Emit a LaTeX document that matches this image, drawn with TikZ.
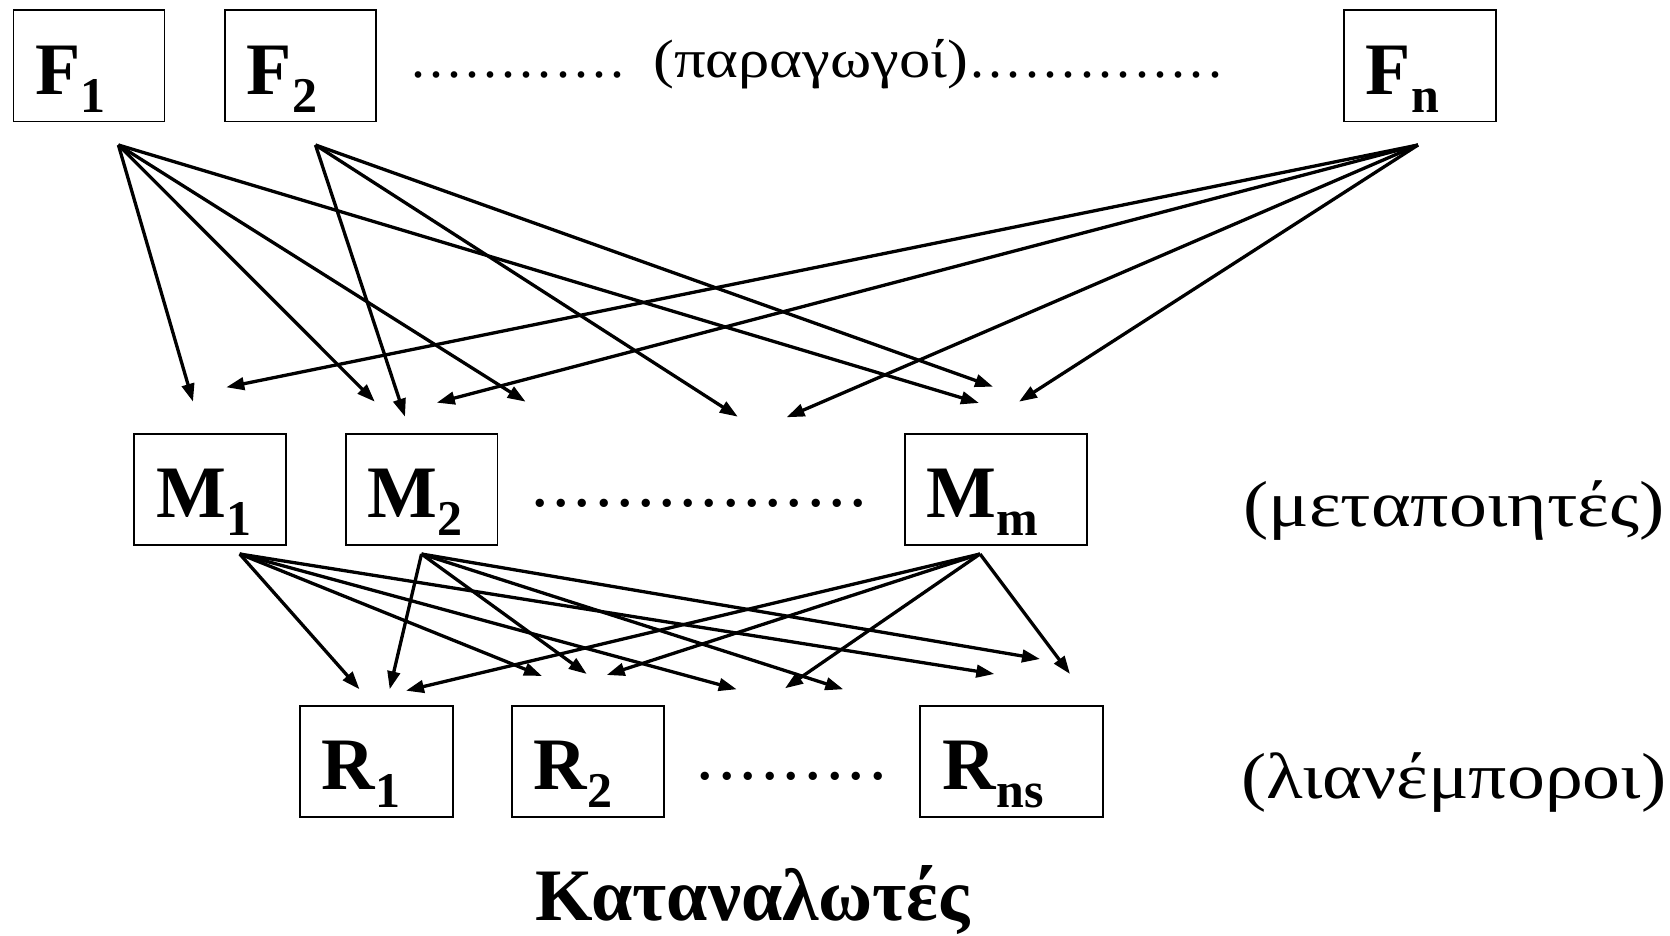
\documentclass[tikz,border=0pt]{standalone}
\usepackage{fontspec}
\setmainfont{Liberation Serif}
\usetikzlibrary{arrows.meta}
\newcommand\lbl[2]{\textbf{#1}\raisebox{-18pt}{\fontsize{50}{50}\selectfont\textbf{#2}}}
\newcommand\dotrow[2]{\begingroup\count255=0 \loop\ifnum\count255<#1 \makebox[#2]{.}\advance\count255 by 1 \repeat\endgroup}
\tikzset{
  box/.style={draw, line width=1.8pt, anchor=north west, inner xsep=22pt, inner ysep=0pt,
    text height=84pt, text depth=27.4pt, align=left, text width=#1,
    font=\fontsize{74}{74}\selectfont},
  box/.default=107pt,
  arr/.style={line width=3.3pt, -{Triangle[length=18pt,width=12.5pt]}},
  dotsty/.style={inner sep=0pt, anchor=base west},
  grk/.style={inner sep=0pt, anchor=base west},
}
\begin{document}
\begin{tikzpicture}[x=1pt,y=-1pt]
\useasboundingbox (0,0) rectangle (1670,936);
% top row
\node[box] (F1) at (12.5,9.3) {\lbl{F}{1}};
\node[box] (F2) at (224,9.3) {\lbl{F}{2}};
\node[box=108pt] (Fn) at (1343,9.3) {\lbl{F}{n}};
\node[dotsty, font=\fontsize{56}{56}\selectfont] (d1) at (409,78) {\dotrow{12}{18.1pt}};
\node[grk, font=\fontsize{54}{54}\selectfont] (prod) at (653,78) {\scalebox{1.16}[1]{(παραγωγοί)}};
\node[dotsty, font=\fontsize{56}{56}\selectfont] (d2) at (968,78) {\dotrow{14}{18.3pt}};
% middle row
\node[box=108pt] (M1) at (133.3,432.7) {\lbl{M}{1}};
\node[box=107.5pt] (M2) at (345,432.7) {\lbl{M}{2}};
\node[box=138.3pt] (Mm) at (904,432.7) {\lbl{M}{m}};
\node[dotsty, font=\fontsize{70}{70}\selectfont] (d3) at (529.4,506) {\dotrow{16}{21.2pt}};
\node[grk, font=\fontsize{65}{65}\selectfont] (proc) at (1243,526) {\scalebox{1.165}[1]{(μεταποιητές)}};
% bottom row
\node[box=108.7pt] (R1) at (299,705) {\lbl{R}{1}};
\node[box=108.3pt] (R2) at (511,705) {\lbl{R}{2}};
\node[box=138.4pt] (Rns) at (919.3,705) {\lbl{R}{ns}};
\node[dotsty, font=\fontsize{70}{70}\selectfont] (d4) at (694.2,779) {\dotrow{9}{21.6pt}};
\node[grk, font=\fontsize{65}{65}\selectfont] (ret) at (1241,798) {\scalebox{1.165}[1]{(λιανέμποροι)}};
\node[grk, font=\bfseries\fontsize{74}{74}\selectfont] (cons) at (535,920) {Καταναλωτές};
% arrow sources
\coordinate (sF1) at (118.4,145);
\coordinate (sF2) at (315.5,145);
\coordinate (sFn) at (1418,145);
\coordinate (sM1) at (239.7,554);
\coordinate (sM2) at (421.5,554);
\coordinate (sMm) at (980,554);
% arrow tips, upper level
\coordinate (u1) at (193,401.7);
\coordinate (u2) at (374.8,401.7);
\coordinate (u3) at (525.6,401.7);
\coordinate (u4) at (979,403);
\coordinate (u5) at (405,416.7);
\coordinate (u6) at (737.8,416.7);
\coordinate (u7) at (993,386.7);
\coordinate (u8) at (226.3,387.3);
\coordinate (u9) at (436.8,402.7);
\coordinate (u10) at (786.6,417.3);
\coordinate (u11) at (1019,401.7);
% arrow tips, lower level
\coordinate (l1) at (359.5,689.3);
\coordinate (l2) at (542,676);
\coordinate (l3) at (736.7,689.3);
\coordinate (l4) at (994.3,674);
\coordinate (l5) at (389.7,689.3);
\coordinate (l6) at (586.8,674);
\coordinate (l7) at (843.3,689.3);
\coordinate (l8) at (1040,659);
\coordinate (l9) at (406,690.7);
\coordinate (l10) at (606.7,675);
\coordinate (l11) at (785,688.3);
\coordinate (l12) at (1070,674);
% arrows
\foreach \t in {u1,u2,u3,u4} \draw[arr] (sF1) -- (\t);
\foreach \t in {u5,u6,u7} \draw[arr] (sF2) -- (\t);
\foreach \t in {u8,u9,u10,u11} \draw[arr] (sFn) -- (\t);
\foreach \t in {l1,l2,l3,l4} \draw[arr] (sM1) -- (\t);
\foreach \t in {l5,l6,l7,l8} \draw[arr] (sM2) -- (\t);
\foreach \t in {l9,l10,l11,l12} \draw[arr] (sMm) -- (\t);
\end{tikzpicture}
\end{document}
